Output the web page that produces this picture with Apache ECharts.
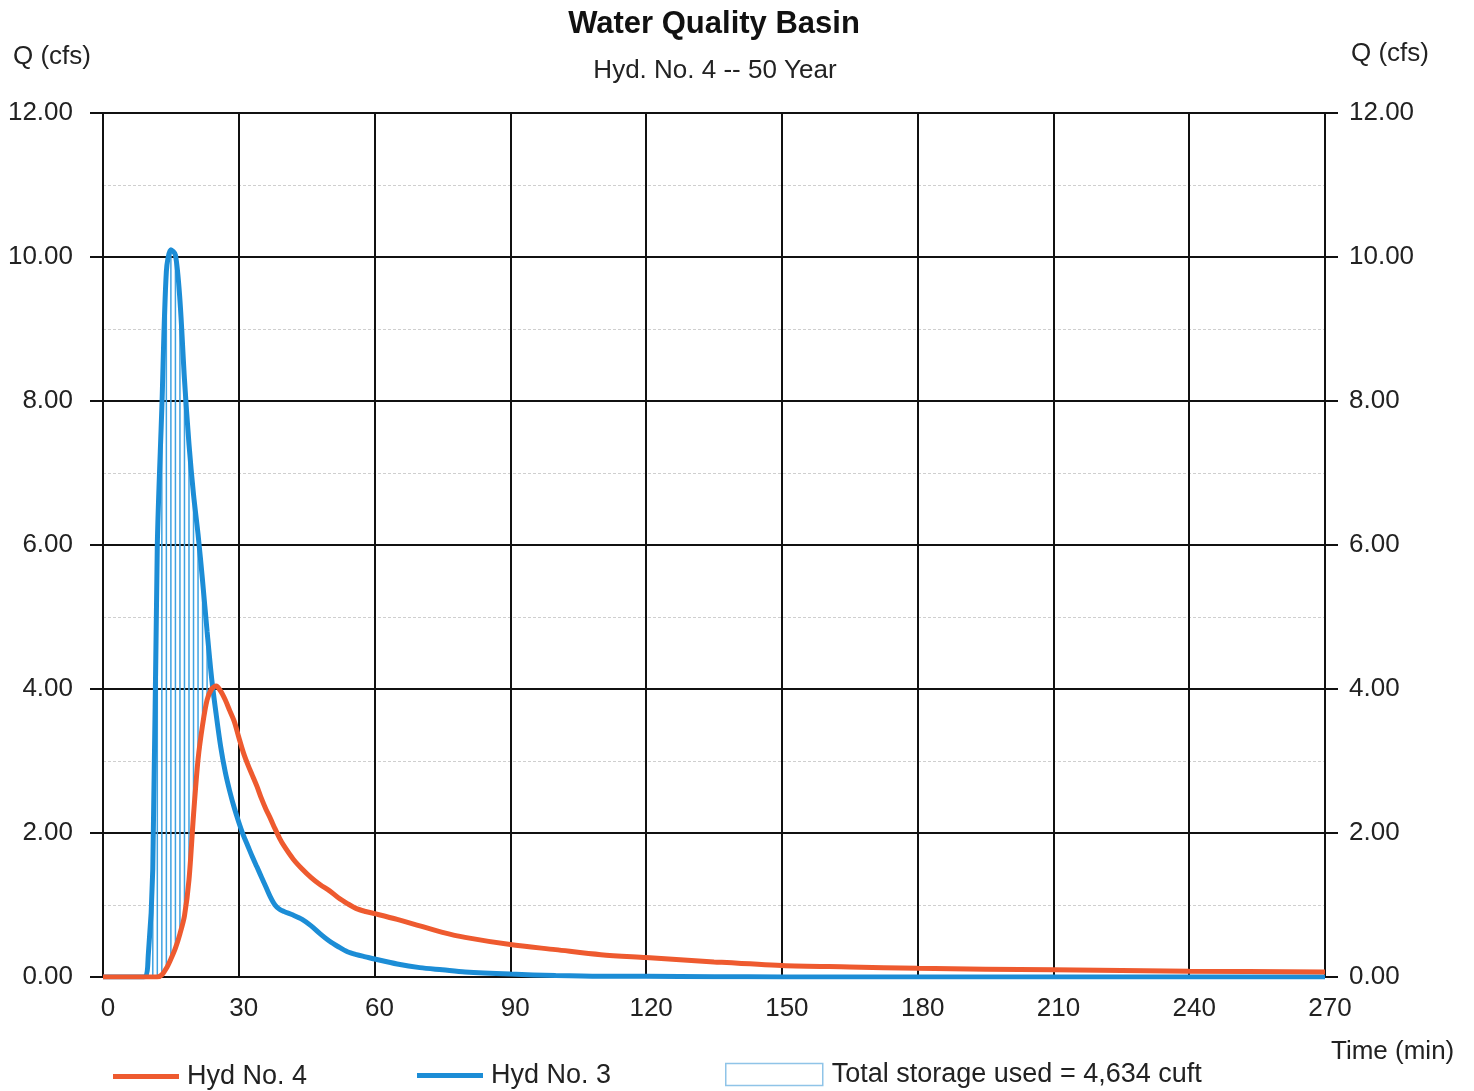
<!DOCTYPE html>
<html>
<head>
<meta charset="utf-8">
<title>Water Quality Basin</title>
<script src="https://cdn.jsdelivr.net/npm/echarts@6/dist/echarts.min.js"></script>
<style>
  html, body { margin: 0; padding: 0; background: #fff; }
  #chart { width: 1474px; height: 1091px; }
</style>
</head>
<body>
<div id="chart"></div>
<script>
// time in minutes, shared by both hydrographs
var minutes = [0, 9, 10, 11, 12, 13, 14, 15, 16, 17, 18, 19, 20, 21, 22, 23, 24, 25, 26, 27, 28, 29, 30,
  31, 32, 33, 34, 35, 36, 37, 38, 39, 40, 42, 44, 46, 48, 50, 52, 54, 56, 58, 60,
  65, 70, 75, 80, 90, 100, 110, 120, 135, 150, 165, 180, 210, 240, 270];
// Hyd No. 3 (inflow), cfs
var hyd3 = [0, 0, 0.3, 1.5, 6.0, 7.9, 9.8, 10.1, 10.03, 9.4, 8.3, 7.4, 6.7, 6.15, 5.5, 4.8, 4.15, 3.65, 3.2, 2.85, 2.58, 2.35, 2.15,
  1.97, 1.82, 1.67, 1.53, 1.39, 1.25, 1.11, 1.0, 0.94, 0.91, 0.86, 0.8, 0.71, 0.6, 0.5, 0.42, 0.35, 0.31, 0.28, 0.25,
  0.18, 0.13, 0.1, 0.07, 0.04, 0.02, 0.01, 0.01, 0.005, 0, 0, 0, 0, 0, 0];
// Hyd No. 4 (outflow), cfs
var hyd4 = [0, 0, 0, 0, 0, 0.03, 0.12, 0.25, 0.4, 0.6, 0.85, 1.35, 2.25, 3.02, 3.5, 3.85, 4.0, 4.04, 3.97, 3.85, 3.7, 3.55, 3.33,
  3.12, 2.95, 2.8, 2.65, 2.48, 2.33, 2.2, 2.06, 1.93, 1.82, 1.64, 1.5, 1.38, 1.28, 1.2, 1.1, 1.02, 0.95, 0.91, 0.88,
  0.8, 0.71, 0.62, 0.55, 0.45, 0.38, 0.31, 0.27, 0.21, 0.16, 0.14, 0.12, 0.1, 0.08, 0.07];
var seriesNames = ['Hyd No. 4', 'Hyd No. 3', 'Total storage used = 4,634 cuft'];

var FONT = '"Liberation Sans", Arial, sans-serif';
var RED = '#ee5a2f', BLUE = '#1c8dd6';

function pairs(vals) {
  return minutes.map(function (t, i) { return [t, vals[i]]; });
}

// storage hatching: one vertical stroke per time step where inflow exceeds outflow
var storage = [];
minutes.forEach(function (t, i) {
  if (hyd3[i] > hyd4[i] && hyd3[i] > 0) storage.push([t, hyd3[i], hyd4[i]]);
});

var chart = echarts.init(document.getElementById('chart'));

function fmt(v) { return v.toFixed(2); }

var yLeft = {
  type: 'value', position: 'left', min: 0, max: 12, interval: 2,
  axisLine: { show: true, lineStyle: { color: '#111', width: 2 } },
  axisTick: { show: true, length: 13, lineStyle: { color: '#111', width: 2 } },
  axisLabel: { fontSize: 26, color: '#222', fontFamily: FONT, margin: 30, formatter: fmt },
  splitLine: { show: true, lineStyle: { color: '#111', width: 2 } },
  minorTick: { show: false, splitNumber: 2 },
  minorSplitLine: { show: true, lineStyle: { color: '#cfcfcf', width: 1, type: [3, 2] } }
};
var yRight = {
  type: 'value', position: 'right', min: 0, max: 12, interval: 2,
  axisLine: { show: true, lineStyle: { color: '#111', width: 2 } },
  axisTick: { show: true, length: 13, lineStyle: { color: '#111', width: 2 } },
  axisLabel: { fontSize: 26, color: '#222', fontFamily: FONT, margin: 24, formatter: fmt },
  splitLine: { show: false }
};

var legendText = { fontSize: 27, color: '#222', fontFamily: FONT };
var plainText = { fontSize: 26, fontWeight: 'normal', color: '#222', fontFamily: FONT };

var option = {
  animation: false,
  backgroundColor: '#fff',
  title: [
    { text: 'Water Quality Basin', left: 709, top: 4, textAlign: 'center',
      textStyle: { fontSize: 31, fontWeight: 'bold', color: '#111', fontFamily: FONT } },
    { text: 'Hyd. No. 4 -- 50 Year', left: 710, top: 53, textAlign: 'center', textStyle: plainText },
    { text: 'Q (cfs)', left: 8, top: 39, textStyle: plainText },
    { text: 'Q (cfs)', left: 1346, top: 36, textStyle: plainText },
    { text: 'Time (min)', left: 1326, top: 1034, textStyle: plainText }
  ],
  legend: [
    { data: [{ name: seriesNames[0], icon: 'rect' }], left: 108, top: 1058, itemWidth: 66, itemHeight: 5,
      selectedMode: false, textStyle: Object.assign({ padding: [0, 0, 0, 3] }, legendText) },
    { data: [{ name: seriesNames[1], icon: 'rect' }], left: 412, top: 1057, itemWidth: 66, itemHeight: 5,
      selectedMode: false, textStyle: Object.assign({ padding: [0, 0, 0, 3] }, legendText) },
    { data: [{ name: seriesNames[2], icon: 'rect',
        itemStyle: { color: '#fff', borderColor: '#8fc4e8', borderWidth: 1.5 } }],
      left: 720, top: 1056, itemWidth: 97, itemHeight: 22, selectedMode: false,
      textStyle: Object.assign({ padding: [0, 0, 0, 4] }, legendText) }
  ],
  grid: { left: 103, right: 149, top: 113, bottom: 114 },
  xAxis: {
    type: 'value', min: 0, max: 270, interval: 30,
    axisLine: { show: true, lineStyle: { color: '#111', width: 2 } },
    axisTick: { show: false },
    axisLabel: { fontSize: 26, color: '#222', fontFamily: FONT, margin: 19, padding: [0, 0, 0, 10] },
    splitLine: { show: true, lineStyle: { color: '#111', width: 2 } }
  },
  yAxis: [yLeft, yRight],
  series: [
    {
      name: seriesNames[2], type: 'custom', yAxisIndex: 0, z: 3,
      itemStyle: { color: '#fff', borderColor: '#8fc4e8' },
      encode: { x: 0, y: [1, 2] },
      renderItem: function (params, api) {
        var top = api.coord([api.value(0), api.value(1)]);
        var bot = api.coord([api.value(0), api.value(2)]);
        return {
          type: 'line',
          shape: { x1: top[0], y1: top[1], x2: bot[0], y2: bot[1] },
          style: { stroke: '#3ea2e2', lineWidth: 1.5 }
        };
      },
      data: storage
    },
    {
      name: seriesNames[1], type: 'line', yAxisIndex: 0, z: 4,
      data: pairs(hyd3), symbol: 'none', smooth: 0.3,
      lineStyle: { color: BLUE, width: 5 }, itemStyle: { color: BLUE }
    },
    {
      name: seriesNames[0], type: 'line', yAxisIndex: 0, z: 5,
      data: pairs(hyd4), symbol: 'none', smooth: 0.3,
      lineStyle: { color: RED, width: 5 }, itemStyle: { color: RED }
    }
  ]
};

chart.setOption(option);
</script>
</body>
</html>
